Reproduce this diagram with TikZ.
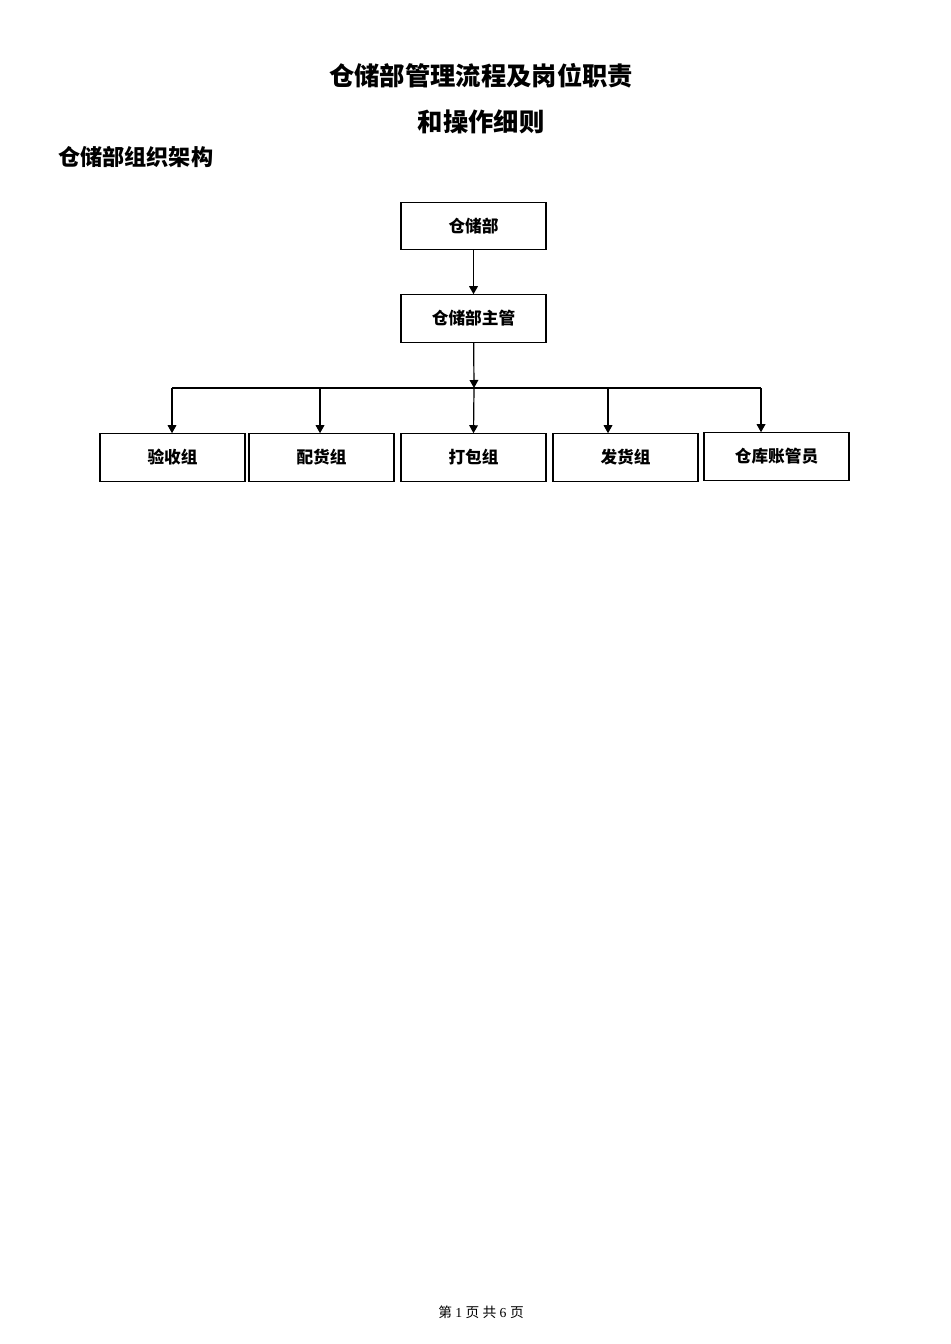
\documentclass[tikz,border=0pt]{standalone}
\usepackage{fontspec}
\setmainfont{Liberation Serif}
\newfontfamily\cjk{Noto Sans CJK SC}
\usetikzlibrary{arrows.meta}
\tikzset{
  box/.style={draw, line width=0.9pt, minimum width=108.75pt, minimum height=35.5pt, inner sep=0pt, font=\cjk\bfseries\fontsize{12.5pt}{14pt}\selectfont},
  arr/.style={line width=0.9pt, -{Triangle[length=6pt,width=6.5pt]}},
  ln/.style={line width=0.9pt},
  ttl/.style={font=\cjk\bfseries\fontsize{19pt}{22pt}\selectfont},
}
\begin{document}
\begin{tikzpicture}[x=0.75pt,y=-0.75pt]
\useasboundingbox (0,0) rectangle (950,1344);
\node[ttl] (t1) at (481,76) {仓储部管理流程及岗位职责};
\node[ttl] (t2) at (481,122) {和操作细则};
\node[font=\cjk\bfseries\fontsize{16.6pt}{20pt}\selectfont, anchor=west, inner sep=0pt] (h) at (58,157) {仓储部组织架构};

\node[box] (top) at (473.5,226) {仓储部};
\node[box] (mgr) at (473.5,318.5) {仓储部主管};
\node[box] (b1) at (172.5,457.5) {验收组};
\node[box] (b2) at (321.5,457.5) {配货组};
\node[box] (b3) at (473.5,457.5) {打包组};
\node[box] (b4) at (625.5,457.5) {发货组};
\node[box] (b5) at (776.5,456.5) {仓库账管员};

\coordinate (bus) at (474,388);
\coordinate (j1) at (172,388);
\coordinate (j2) at (320,388);
\coordinate (j4) at (608,388);
\coordinate (j5) at (761,388);

\draw[arr] (top) -- (mgr);
\draw[arr] (mgr) -- (bus);
\draw[ln] (j1) -- (j5);
\draw[arr] (j1) -- (j1 |- b1.north);
\draw[arr] (j2) -- (j2 |- b2.north);
\draw[arr] (bus) -- (b3.north);
\draw[arr] (j4) -- (j4 |- b4.north);
\draw[arr] (j5) -- (j5 |- b5.north);

\node[font=\fontsize{10.3pt}{12pt}\selectfont] (foot) at (481,1312) {{\cjk 第} 1 {\cjk 页 共} 6 {\cjk 页}};
\end{tikzpicture}
\end{document}
